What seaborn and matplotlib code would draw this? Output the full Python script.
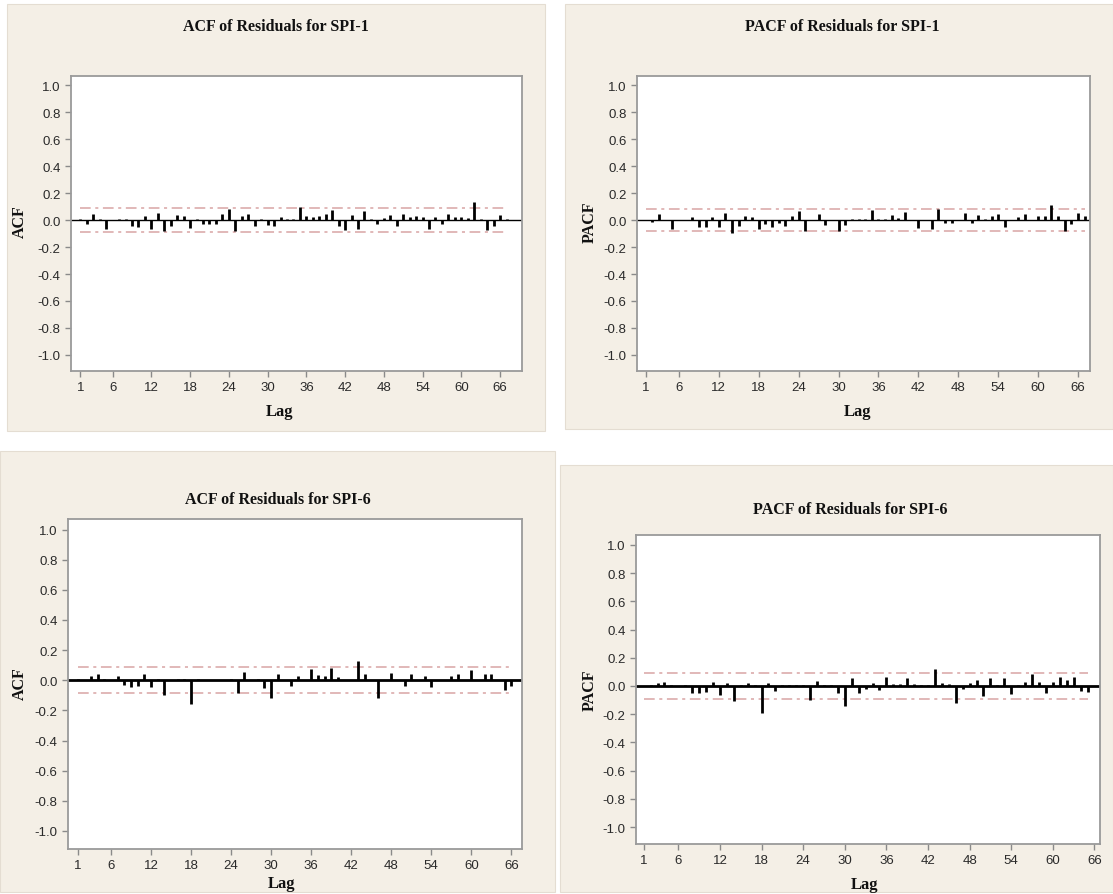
import numpy as np
import pandas as pd
import matplotlib
matplotlib.use("Agg")
import matplotlib.pyplot as plt
import seaborn as sns
from matplotlib.patches import Rectangle
from matplotlib import font_manager

# ---------------- data ----------------
acf_spi1 = [0.005, -0.03, 0.042, 0.005, -0.065, 0.0, 0.005, 0.005, -0.045, -0.05,
            0.03, -0.065, 0.055, -0.08, -0.04, 0.037, 0.03, -0.06, 0.005, -0.03,
            -0.025, -0.03, 0.042, 0.08, -0.08, 0.03, 0.042, -0.045, 0.005, -0.037,
            -0.04, 0.025, 0.005, 0.005, 0.097, 0.03, 0.022, 0.03, 0.042, 0.075,
            -0.04, -0.07, 0.035, -0.065, 0.067, 0.005, -0.025, 0.018, 0.035, -0.04,
            0.042, 0.025, 0.03, 0.022, -0.065, 0.025, -0.032, 0.042, 0.022, 0.022,
            0.018, 0.134, 0.005, -0.07, -0.045, 0.035, 0.005]
pacf_spi1 = [0.0, -0.012, 0.048, 0.0, -0.065, 0.0, 0.0, 0.02, -0.048, -0.053,
             0.02, -0.053, 0.055, -0.096, -0.04, 0.03, 0.024, -0.065, -0.03, -0.048,
             -0.024, -0.04, 0.03, 0.067, -0.081, 0.0, 0.043, -0.036, 0.0, -0.081,
             -0.036, 0.005, 0.005, 0.005, 0.072, 0.01, 0.005, 0.038, 0.019, 0.062,
             0.0, -0.06, 0.0, -0.065, 0.086, -0.024, -0.024, 0.0, 0.055, -0.024,
             0.038, 0.005, 0.031, 0.043, -0.048, 0.0, 0.024, 0.048, 0.0, 0.031,
             0.031, 0.115, 0.031, -0.077, -0.029, 0.055, 0.031]
acf_spi6 = [0.005, 0.0, 0.025, 0.042, 0.01, 0.0, 0.025, -0.033, -0.048, -0.038,
            0.042, -0.048, 0.005, -0.095, 0.0, 0.005, 0.005, -0.16, 0.005, 0.0,
            0.0, 0.0, 0.0, 0.01, -0.083, 0.056, 0.0, 0.005, -0.054, -0.12,
            0.042, 0.0, -0.04, 0.03, 0.0, 0.077, 0.035, 0.025, 0.081, 0.02,
            0.0, 0.0, 0.125, 0.04, 0.0, -0.115, 0.0, 0.05, 0.0, -0.038,
            0.04, 0.0, 0.03, -0.048, 0.0, 0.0, 0.027, 0.04, 0.0, 0.065,
            0.0, 0.04, 0.04, 0.0, -0.068, -0.04]
pacf_spi6 = [0.0, 0.005, 0.024, 0.031, 0.005, 0.0, 0.005, -0.052, -0.047, -0.04,
             0.031, -0.066, 0.024, -0.11, 0.005, 0.024, 0.005, -0.195, 0.019, -0.036,
             0.005, 0.005, 0.005, 0.005, -0.1, 0.036, 0.005, 0.005, -0.052, -0.14,
             0.055, -0.052, -0.024, 0.024, -0.028, 0.066, 0.014, 0.014, 0.055, 0.014,
             0.005, 0.005, 0.119, 0.024, 0.014, -0.123, -0.024, 0.024, 0.043, -0.07,
             0.055, 0.005, 0.055, -0.057, 0.005, 0.031, 0.085, 0.031, -0.047, 0.031,
             0.062, 0.043, 0.062, -0.033, -0.04]

sig_limits = {"acf1": 0.088, "pacf1": 0.083, "acf6": 0.086, "pacf6": 0.092}

titles = ["ACF of Residuals for SPI-1", "PACF of Residuals for SPI-1",
          "ACF of Residuals for SPI-6", "PACF of Residuals for SPI-6"]
ylabels = ["ACF", "PACF", "ACF", "PACF"]
x_ticks = [1, 6, 12, 18, 24, 30, 36, 42, 48, 54, 60, 66]
y_ticks = [-1.0, -0.8, -0.6, -0.4, -0.2, 0.0, 0.2, 0.4, 0.6, 0.8, 1.0]

# ---------------- style ----------------
sns.set_theme(style="white")
names = {f.name for f in font_manager.fontManager.ttflist}
serif = "Liberation Serif" if "Liberation Serif" in names else "DejaVu Serif"
tickfont = "Liberation Sans Narrow" if "Liberation Sans Narrow" in names else "Liberation Sans"
plt.rcParams["font.family"] = [tickfont, "DejaVu Sans"]

W, H = 1113, 895
fig = plt.figure(figsize=(W / 100, H / 100), dpi=100, facecolor="white")

beige = "#f4efe6"

def px_rect(l, t, r, b):
    return [l / W, 1 - b / H, (r - l) / W, (b - t) / H]

panels = [
    dict(bg=(7, 5, 545, 432), ax=(71, 77, 522, 372), xlim=(-0.45, 69.4),
         title=(276, 27), ylab=(20, 222), lag=(280, 412), zlw=1.0),
    dict(bg=(565, 5, 1113, 430), ax=(637, 77, 1090, 372), xlim=(-0.3, 67.8),
         title=(842, 27), ylab=(590, 222), lag=(858, 412), zlw=1.0),
    dict(bg=(0, 452, 555, 893), ax=(68, 520, 522, 850), xlim=(-0.45, 67.6),
         title=(278, 500), ylab=(20, 684), lag=(282, 884), zlw=2.0),
    dict(bg=(560, 466, 1113, 893), ax=(636, 536, 1100, 845), xlim=(-0.1, 66.8),
         title=(850, 510), ylab=(590, 690), lag=(865, 885), zlw=2.0),
]
series = [acf_spi1, pacf_spi1, acf_spi6, pacf_spi6]
limits = [sig_limits["acf1"], sig_limits["pacf1"], sig_limits["acf6"], sig_limits["pacf6"]]

for p, vals, lim, title, ylab in zip(panels, series, limits, titles, ylabels):
    l, t, r, b = p["bg"]
    fig.patches.append(Rectangle((l / W, 1 - b / H), (r - l) / W, (b - t) / H,
                                 transform=fig.transFigure, facecolor=beige,
                                 edgecolor="#e4ddd2", lw=0.8, zorder=-10))
    ax = fig.add_axes(px_rect(*p["ax"]))
    ax.set_zorder(5)
    ax.set_facecolor("white")
    df = pd.DataFrame({"lag": np.arange(1, len(vals) + 1), "value": vals})
    df["upper"] = lim
    df["lower"] = -lim

    for col in ["upper", "lower"]:
        sns.lineplot(data=df, x="lag", y=col, ax=ax, color="#d9a4a4", lw=1.1,
                     dashes=False, zorder=1)
    for line in ax.get_lines():
        line.set_dashes([7, 3, 2, 3])

    ax.axhline(0, color="black", lw=p["zlw"], zorder=2)
    ax.vlines(df["lag"], 0, df["value"], color="black", lw=2.0, zorder=3)

    ax.set_xlim(*p["xlim"])
    ax.set_ylim(-1.12, 1.07)
    ax.set_xticks(x_ticks)
    ax.set_yticks(y_ticks)
    ax.set_yticklabels([f"{v:.1f}" for v in y_ticks])
    ax.tick_params(axis="both", which="both", direction="out", length=4, width=1,
                   color="#8a8a8a", labelcolor="#2a2a2a", labelsize=9.5,
                   left=True, bottom=True)
    ax.set_xlabel("")
    ax.set_ylabel("")
    for s in ax.spines.values():
        s.set_color("#9a9a9a")
        s.set_linewidth(1.3)

    fig.text(p["title"][0] / W, 1 - p["title"][1] / H, title, ha="center", va="center",
             fontsize=11.5, fontweight="bold", family=serif, color="#111111")
    fig.text(p["ylab"][0] / W, 1 - p["ylab"][1] / H, ylab, ha="center", va="center",
             rotation=90, fontsize=11.5, fontweight="bold", family=serif, color="#111111")
    fig.text(p["lag"][0] / W, 1 - p["lag"][1] / H, "Lag", ha="center", va="center",
             fontsize=12, fontweight="bold", family=serif, color="#111111")

fig.savefig("out.png", dpi=100, facecolor="white")
